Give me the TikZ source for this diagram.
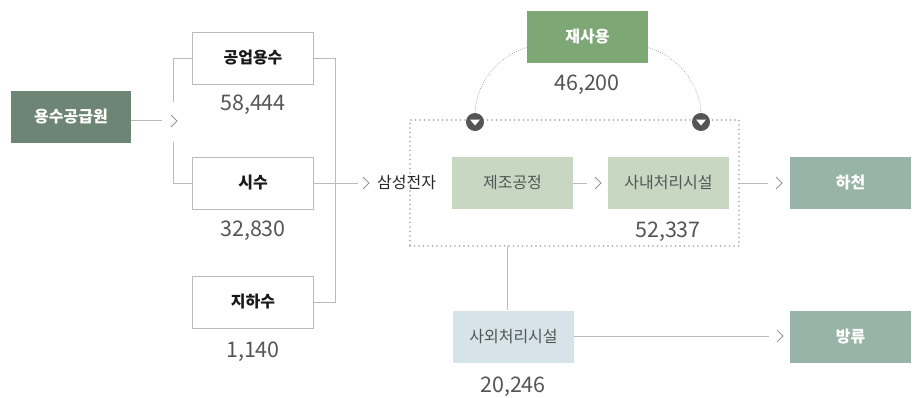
\documentclass[tikz,border=0pt]{standalone}
\usepackage{fontspec}
\setmainfont{Noto Sans CJK KR}
\usetikzlibrary{calc}
\definecolor{srcc}{HTML}{6D8574}
\definecolor{reuse}{HTML}{7DA876}
\definecolor{outc}{HTML}{98B4A9}
\definecolor{procc}{HTML}{C7D7C2}
\definecolor{extc}{HTML}{D6E3E8}
\definecolor{lnc}{HTML}{BBBBBB}
\definecolor{numc}{HTML}{555555}
\definecolor{dotc}{HTML}{A0A0A0}
\begin{document}
\begin{tikzpicture}[x=1pt,y=-1pt,
  box/.style={minimum width=121pt,minimum height=52pt,inner sep=0pt,anchor=center},
  wbox/.style={box,draw=lnc,line width=0.9pt,fill=white,font=\bfseries\fontsize{16}{19}\selectfont,text=black!90},
  dbox/.style={box,font=\bfseries\fontsize{16}{19}\selectfont,text=white},
  pbox/.style={box,font=\fontsize{16}{19}\selectfont,text=numc},
  num/.style={font=\fontsize{21.5}{25}\selectfont,text=numc,inner sep=0pt},
  conn/.style={draw=lnc,line width=1pt},
  chev/.style={draw=lnc!80!black,line width=0.9pt,line join=miter},
  arcline/.style={draw=dotc,line width=1pt,dash pattern=on 0pt off 2.2pt,line cap=round},
  marker/.style={circle,fill=numc,minimum size=18pt,inner sep=0pt}
]
\useasboundingbox (0,0) rectangle (918,397);

% nodes
\node[dbox,fill=srcc,minimum width=120pt] (src) at (71,117) {용수공급원};
\node[wbox] (gong) at (253,58) {공업용수};
\node[num] (n1) at (253,105) {58,444};
\node[wbox] (si) at (253,183) {시수};
\node[num] (n2) at (253,231) {32,830};
\node[wbox] (ji) at (253,302) {지하수};
\node[num] (n3) at (253,352) {1,140};
\node[font=\fontsize{16}{19}\selectfont,text=black!85,inner sep=0pt,anchor=west] (sam) at (377,183) {삼성전자};

\node[draw=dotc,line width=1.8pt,dash pattern=on 0pt off 4.5pt,line cap=round,
      minimum width=329pt,minimum height=126pt,inner sep=0pt] (plant) at (574.5,183) {};

\node[dbox,fill=reuse] (re) at (587.5,36.5) {재사용};
\node[num] (n4) at (587,85) {46,200};
\node[pbox,fill=procc] (mfg) at (512.5,183) {제조공정};
\node[pbox,fill=procc] (wwt) at (668.5,183) {사내처리시설};
\node[num] (n5) at (668,232) {52,337};
\node[dbox,fill=outc] (river) at (850.5,182.5) {하천};
\node[pbox,fill=extc] (ext) at (513.5,336.5) {사외처리시설};
\node[num] (n6) at (513,387) {20,246};
\node[dbox,fill=outc] (disc) at (850.5,336.5) {방류};

% markers
\node[marker] (m1) at (475,122) {};
\node[marker] (m2) at (701,122) {};
\fill[white] ($(m1)+(-5,-2.5)$) -- ($(m1)+(5,-2.5)$) -- ($(m1)+(0,3.5)$) -- cycle;
\fill[white] ($(m2)+(-5,-2.5)$) -- ($(m2)+(5,-2.5)$) -- ($(m2)+(0,3.5)$) -- cycle;

% reuse arcs
\draw[arcline] ($(re.west)+(0,11)$) .. controls (494,58) and (476,86) .. (m1.north);
\draw[arcline] ($(re.east)+(0,11)$) .. controls (681,58) and (700,86) .. (m2.north);

% source to bracket
\coordinate (c1) at (162,120);
\coordinate (k1) at (177,121);
\draw[conn] (src.east |- c1) -- (c1);
\draw[chev] ($(k1)+(-6,-6)$) -- (k1) -- ($(k1)+(-6,6)$);
\coordinate (b1) at (173,102);
\coordinate (b2) at (173,142);
\draw[conn] (b1) |- (gong.west);
\draw[conn] (b2) |- (si.west);

% right bracket
\coordinate (rb) at (335,183);
\draw[conn] (gong.east) -| (rb);
\draw[conn] (ji.east) -| (rb);
\coordinate (c2) at (358,183);
\coordinate (k2) at (369,183);
\draw[conn] (si.east) -- (c2);
\draw[chev] ($(k2)+(-6,-6)$) -- (k2) -- ($(k2)+(-6,6)$);

% inner flow
\coordinate (c3) at (587,183);
\coordinate (k3) at (601,183);
\draw[conn] (mfg.east) -- (c3);
\draw[chev] ($(k3)+(-6,-6)$) -- (k3) -- ($(k3)+(-6,6)$);

\coordinate (c4) at (768,183);
\coordinate (k4) at (782,183);
\draw[conn] (plant.east) -- (c4);
\draw[chev] ($(k4)+(-6,-6)$) -- (k4) -- ($(k4)+(-6,6)$);

% to external
\coordinate (d1) at (507,246);
\draw[conn] (d1) -- (d1 |- ext.north);
\coordinate (c5) at (769,336);
\coordinate (k5) at (783,336);
\draw[conn] (ext.east |- c5) -- (c5);
\draw[chev] ($(k5)+(-6,-6)$) -- (k5) -- ($(k5)+(-6,6)$);
\end{tikzpicture}
\end{document}
